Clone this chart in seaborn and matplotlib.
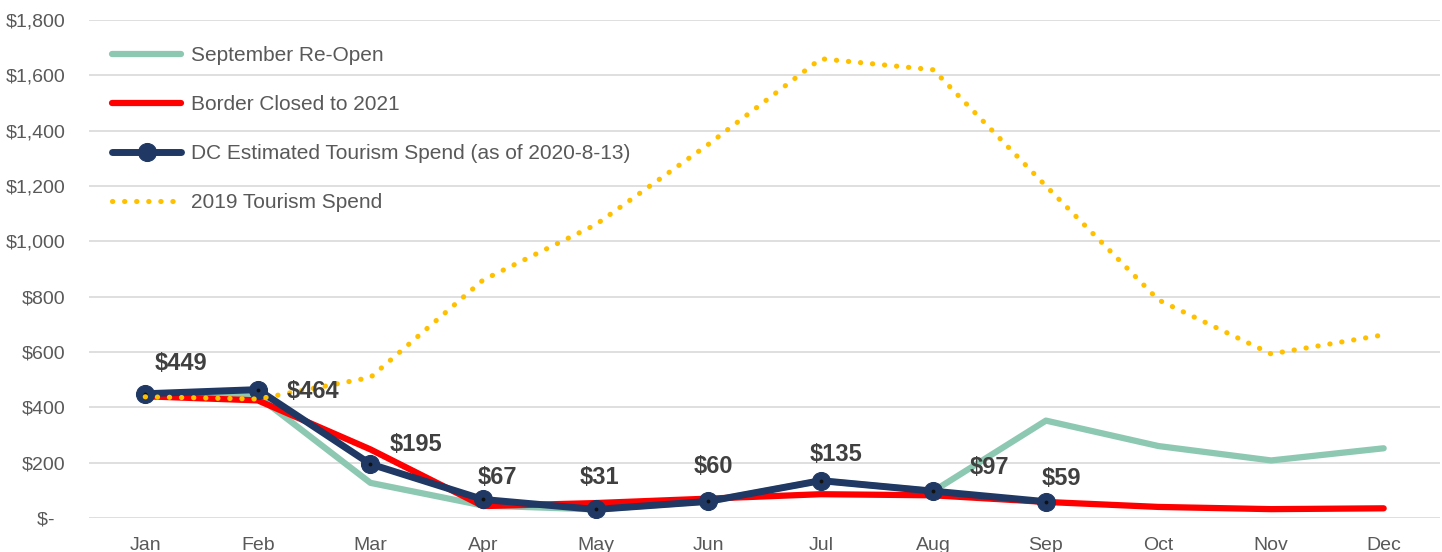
import matplotlib
matplotlib.use("Agg")
import matplotlib.pyplot as plt
import seaborn as sns
import numpy as np
import pandas as pd

months = ["Jan", "Feb", "Mar", "Apr", "May", "Jun", "Jul", "Aug", "Sep", "Oct", "Nov", "Dec"]
sept_reopen = [449, 440, 127, 45, 31, 60, 135, 97, 352, 260, 208, 252]
border_closed = [440, 425, 248, 43, 54, 70, 86, 82, 58, 40, 32, 35]
dc_estimated = [449, 464, 195, 67, 31, 60, 135, 97, 59]
spend_2019 = [438, 430, 508, 860, 1060, 1350, 1660, 1620, 1200, 788, 593, 662]
y_ticks = [0, 200, 400, 600, 800, 1000, 1200, 1400, 1600, 1800]

label_offsets = [(26, 22), (40, -1), (33, 14), (10, 16), (3, 23), (4, 25), (11, 19), (40, 17), (11, 17)]

sns.set_theme(style="white")
plt.rcParams["font.family"] = ["Liberation Sans", "DejaVu Sans"]

fig = plt.figure(figsize=(14.42, 5.52), dpi=100)
ax = fig.add_axes([0.0617, 0.0616, 0.9369, 0.9022])

x_all = np.arange(len(months))
x_dc = np.arange(len(dc_estimated))

green = "#8DC8B2"
red = "#FF0000"
navy = "#1F3864"
gold = "#FFC000"

sns.lineplot(x=x_all, y=sept_reopen, ax=ax, color=green, linewidth=4.5,
             solid_capstyle="round", label="September Re-Open", zorder=3)
sns.lineplot(x=x_all, y=border_closed, ax=ax, color=red, linewidth=4.5,
             solid_capstyle="round", label="Border Closed to 2021", zorder=4)
sns.lineplot(x=x_dc, y=dc_estimated, ax=ax, color=navy, linewidth=5,
             marker="o", markersize=13, markeredgecolor=navy, markerfacecolor=navy,
             solid_capstyle="round", label="DC Estimated Tourism Spend (as of 2020-8-13)", zorder=5)
ax.scatter(x_dc, dc_estimated, s=3, color="#111111", zorder=6)
sns.lineplot(x=x_all, y=spend_2019, ax=ax, color=gold, linewidth=3.7,
             linestyle=(0, (0.05, 2.3)), dash_capstyle="round",
             label="2019 Tourism Spend", zorder=7)

for xi, v, off in zip(x_dc, dc_estimated, label_offsets):
    ax.annotate(f"${v}", (xi, v), xytext=off, textcoords="offset points",
                ha="center", va="center", fontsize=17, fontweight="bold",
                color="#404040", zorder=8)

ax.set_xlim(-0.5, 11.5)
ax.set_ylim(0, 1800)
ax.set_xticks(x_all)
ax.set_xticklabels(months)
ax.set_yticks(y_ticks)
ax.set_yticklabels(["$-  " if t == 0 else f"${t:,}" for t in y_ticks])
ax.tick_params(axis="both", colors="#595959", labelsize=14, length=0)
ax.tick_params(axis="x", pad=14)
ax.tick_params(axis="y", pad=17)
ax.grid(axis="y", color="#D9D9D9", linewidth=1.2)
ax.grid(axis="x", visible=False)
for s in ax.spines.values():
    s.set_visible(False)
ax.set_axisbelow(True)
ax.set_xlabel("")
ax.set_ylabel("")

leg = ax.legend(loc="upper left", bbox_to_anchor=(0.0, 0.994), frameon=False,
                fontsize=15, labelcolor="#595959", handlelength=3.3,
                handletextpad=0.48, labelspacing=1.44, borderaxespad=0.72)

fig.savefig("out.png", dpi=100)
